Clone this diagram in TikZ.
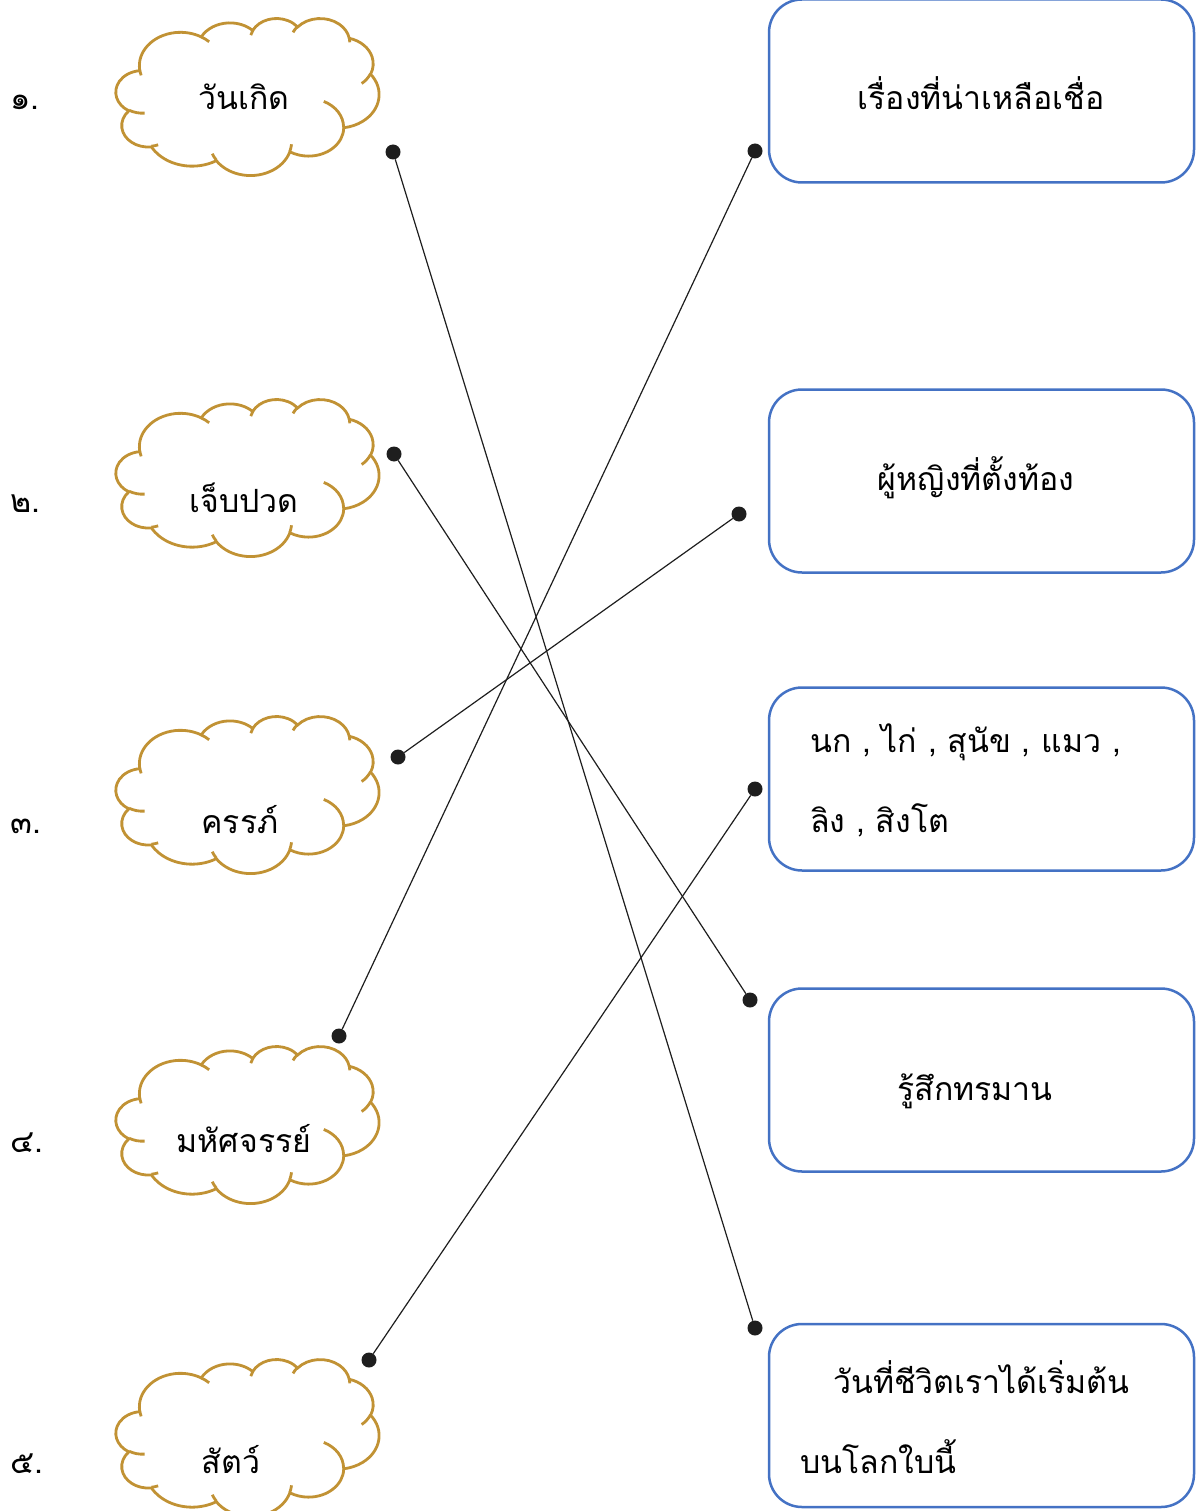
\documentclass[tikz,border=0pt]{standalone}
\usepackage{fontspec}
\setmainfont[Script=Thai]{Loma}
\definecolor{cloudgold}{RGB}{193,146,52}
\definecolor{boxblue}{RGB}{68,114,196}
\definecolor{inkc}{RGB}{30,30,30}
% elliptical arc with DrawingML visual angles: wR hR stAng swAng
\newcommand\carc[4]{\pgfextra{%
  \pgfmathparse{atan2((#1)*sin(#3),(#2)*cos(#3))}\xdef\cS{\pgfmathresult}%
  \pgfmathparse{atan2((#1)*sin((#3)+(#4)),(#2)*cos((#3)+(#4)))}\xdef\cE{\pgfmathresult}%
  \pgfmathparse{mod(\cE-\cS+720,360)}\xdef\cD{\pgfmathresult}%
}arc[start angle=\cS,delta angle=\cD,x radius=#1,y radius=#2]}
\newcommand\mycloud[2]{%
 \begin{scope}[xshift=#1pt,yshift=-#2pt,x={(6.088pt,0pt)},y={(0pt,-3.634pt)}]
  \filldraw[cloudline,fill=white] (3.900,14.370)
    \carc{6.753}{9.190}{-190.4875}{123.7805}
    \carc{5.333}{7.267}{-144.1024}{89.9452}
    \carc{4.365}{5.945}{-145.8079}{99.7230}
    \carc{4.857}{6.595}{-130.9861}{117.2417}
    \carc{5.333}{7.273}{-78.7089}{109.0269}
    \carc{6.775}{9.220}{-46.2673}{130.2690}
    \carc{5.785}{7.867}{0.6250}{114.0333}
    \carc{6.752}{9.215}{22.4516}{115.1726}
    \carc{7.720}{10.543}{66.2426}{75.7110}
    \carc{4.360}{5.918}{-274.9421}{146.7356}
    \carc{4.345}{5.945}{-246.8285}{152.5189} -- cycle;
  \draw[cloudline]
    (4.693,26.177) \carc{4.345}{5.945}{86.7420}{26.4295}
    (6.928,34.899) \carc{4.360}{5.918}{73.6105}{11.4475}
    (16.478,39.090) \carc{6.752}{9.215}{137.6242}{14.0811}
    (28.827,34.751) \carc{6.752}{9.215}{6.4533}{15.9984}
    (34.129,22.954) \carc{5.785}{7.867}{-70.2924}{70.9174}
    (41.798,15.354) \carc{5.333}{7.273}{30.3180}{27.7515}
    (38.324,5.426) \carc{4.857}{6.595}{-13.7443}{14.8589}
    (29.078,3.952) \carc{4.857}{6.595}{-149.1815}{18.1954}
    (22.141,4.720) \carc{4.365}{5.945}{-163.4943}{17.6864}
    (14.000,5.192) \carc{6.753}{9.190}{-66.7070}{12.3194}
    (4.127,15.789) \carc{6.753}{9.190}{157.6544}{11.8582};
 \end{scope}}
\begin{document}
\begin{tikzpicture}[x=1pt,y=-1pt,
  cloudline/.style={draw=cloudgold,line width=2.8pt},
  answerbox/.style={draw=boxblue,line width=2.5pt,rounded corners=33pt,
    minimum width=425pt,minimum height=183pt,inner sep=0pt},
  dot/.style={circle,fill=inkc,inner sep=0pt,minimum size=15pt},
  conn/.style={draw=inkc,line width=1.2pt},
  txt/.style={font=\fontsize{32}{38}\selectfont,inner sep=0pt,text=black}]
\useasboundingbox (0,0) rectangle (1197,1511);
% clouds
\mycloud{116}{18}
\mycloud{116}{399}
\mycloud{116}{716}
\mycloud{116}{1046}
\mycloud{116}{1359}
% numbers
\node[txt,anchor=base west] (n1) at (10,110) {๑.};
\node[txt,anchor=base west] (n2) at (10,512) {๒.};
\node[txt,anchor=base west] (n3) at (10,833) {๓.};
\node[txt,anchor=base west] (n4) at (10,1152) {๔.};
\node[txt,anchor=base west] (n5) at (10,1473) {๕.};
% cloud words
\node[txt,anchor=base] (w1) at (244,110) {วันเกิด};
\node[txt,anchor=base] (w2) at (244,512) {เจ็บปวด};
\node[txt,anchor=base] (w3) at (240,833) {ครรภ์};
\node[txt,anchor=base] (w4) at (244,1152) {มหัศจรรย์};
\node[txt,anchor=base] (w5) at (231,1473) {สัตว์};
% boxes
\node[answerbox] (b1) at (981.5,91) {};
\node[answerbox] (b2) at (981.5,481) {};
\node[answerbox] (b3) at (981.5,779) {};
\node[answerbox] (b4) at (981.5,1080) {};
\node[answerbox] (b5) at (981.5,1415.5) {};
\node[txt,anchor=base] (m1) at (981,110) {เรื่องที่น่าเหลือเชื่อ};
\node[txt,anchor=base] (m2) at (976,490) {ผู้หญิงที่ตั้งท้อง};
\node[txt,anchor=base west] (m3a) at (810,752) {นก , ไก่ , สุนัข , แมว ,};
\node[txt,anchor=base west] (m3b) at (810,832) {ลิง , สิงโต};
\node[txt,anchor=base] (m4) at (975,1100) {รู้สึกทรมาน};
\node[txt,anchor=base west] (m5a) at (833,1393) {วันที่ชีวิตเราได้เริ่มต้น};
\node[txt,anchor=base west] (m5b) at (800,1473) {บนโลกใบนี้};
% dots
\node[dot] (p1) at (393,152) {};
\node[dot] (p2) at (394,454) {};
\node[dot] (p3) at (398,757) {};
\node[dot] (p4) at (339,1036) {};
\node[dot] (p5) at (369,1360) {};
\node[dot] (q1) at (755,151) {};
\node[dot] (q2) at (739,514) {};
\node[dot] (q3) at (755,789) {};
\node[dot] (q4) at (750,1000) {};
\node[dot] (q5) at (755,1328) {};
% connectors
\draw[conn] (p1) -- (q5);
\draw[conn] (p2) -- (q4);
\draw[conn] (p3) -- (q2);
\draw[conn] (p4) -- (q1);
\draw[conn] (p5) -- (q3);
\end{tikzpicture}
\end{document}
